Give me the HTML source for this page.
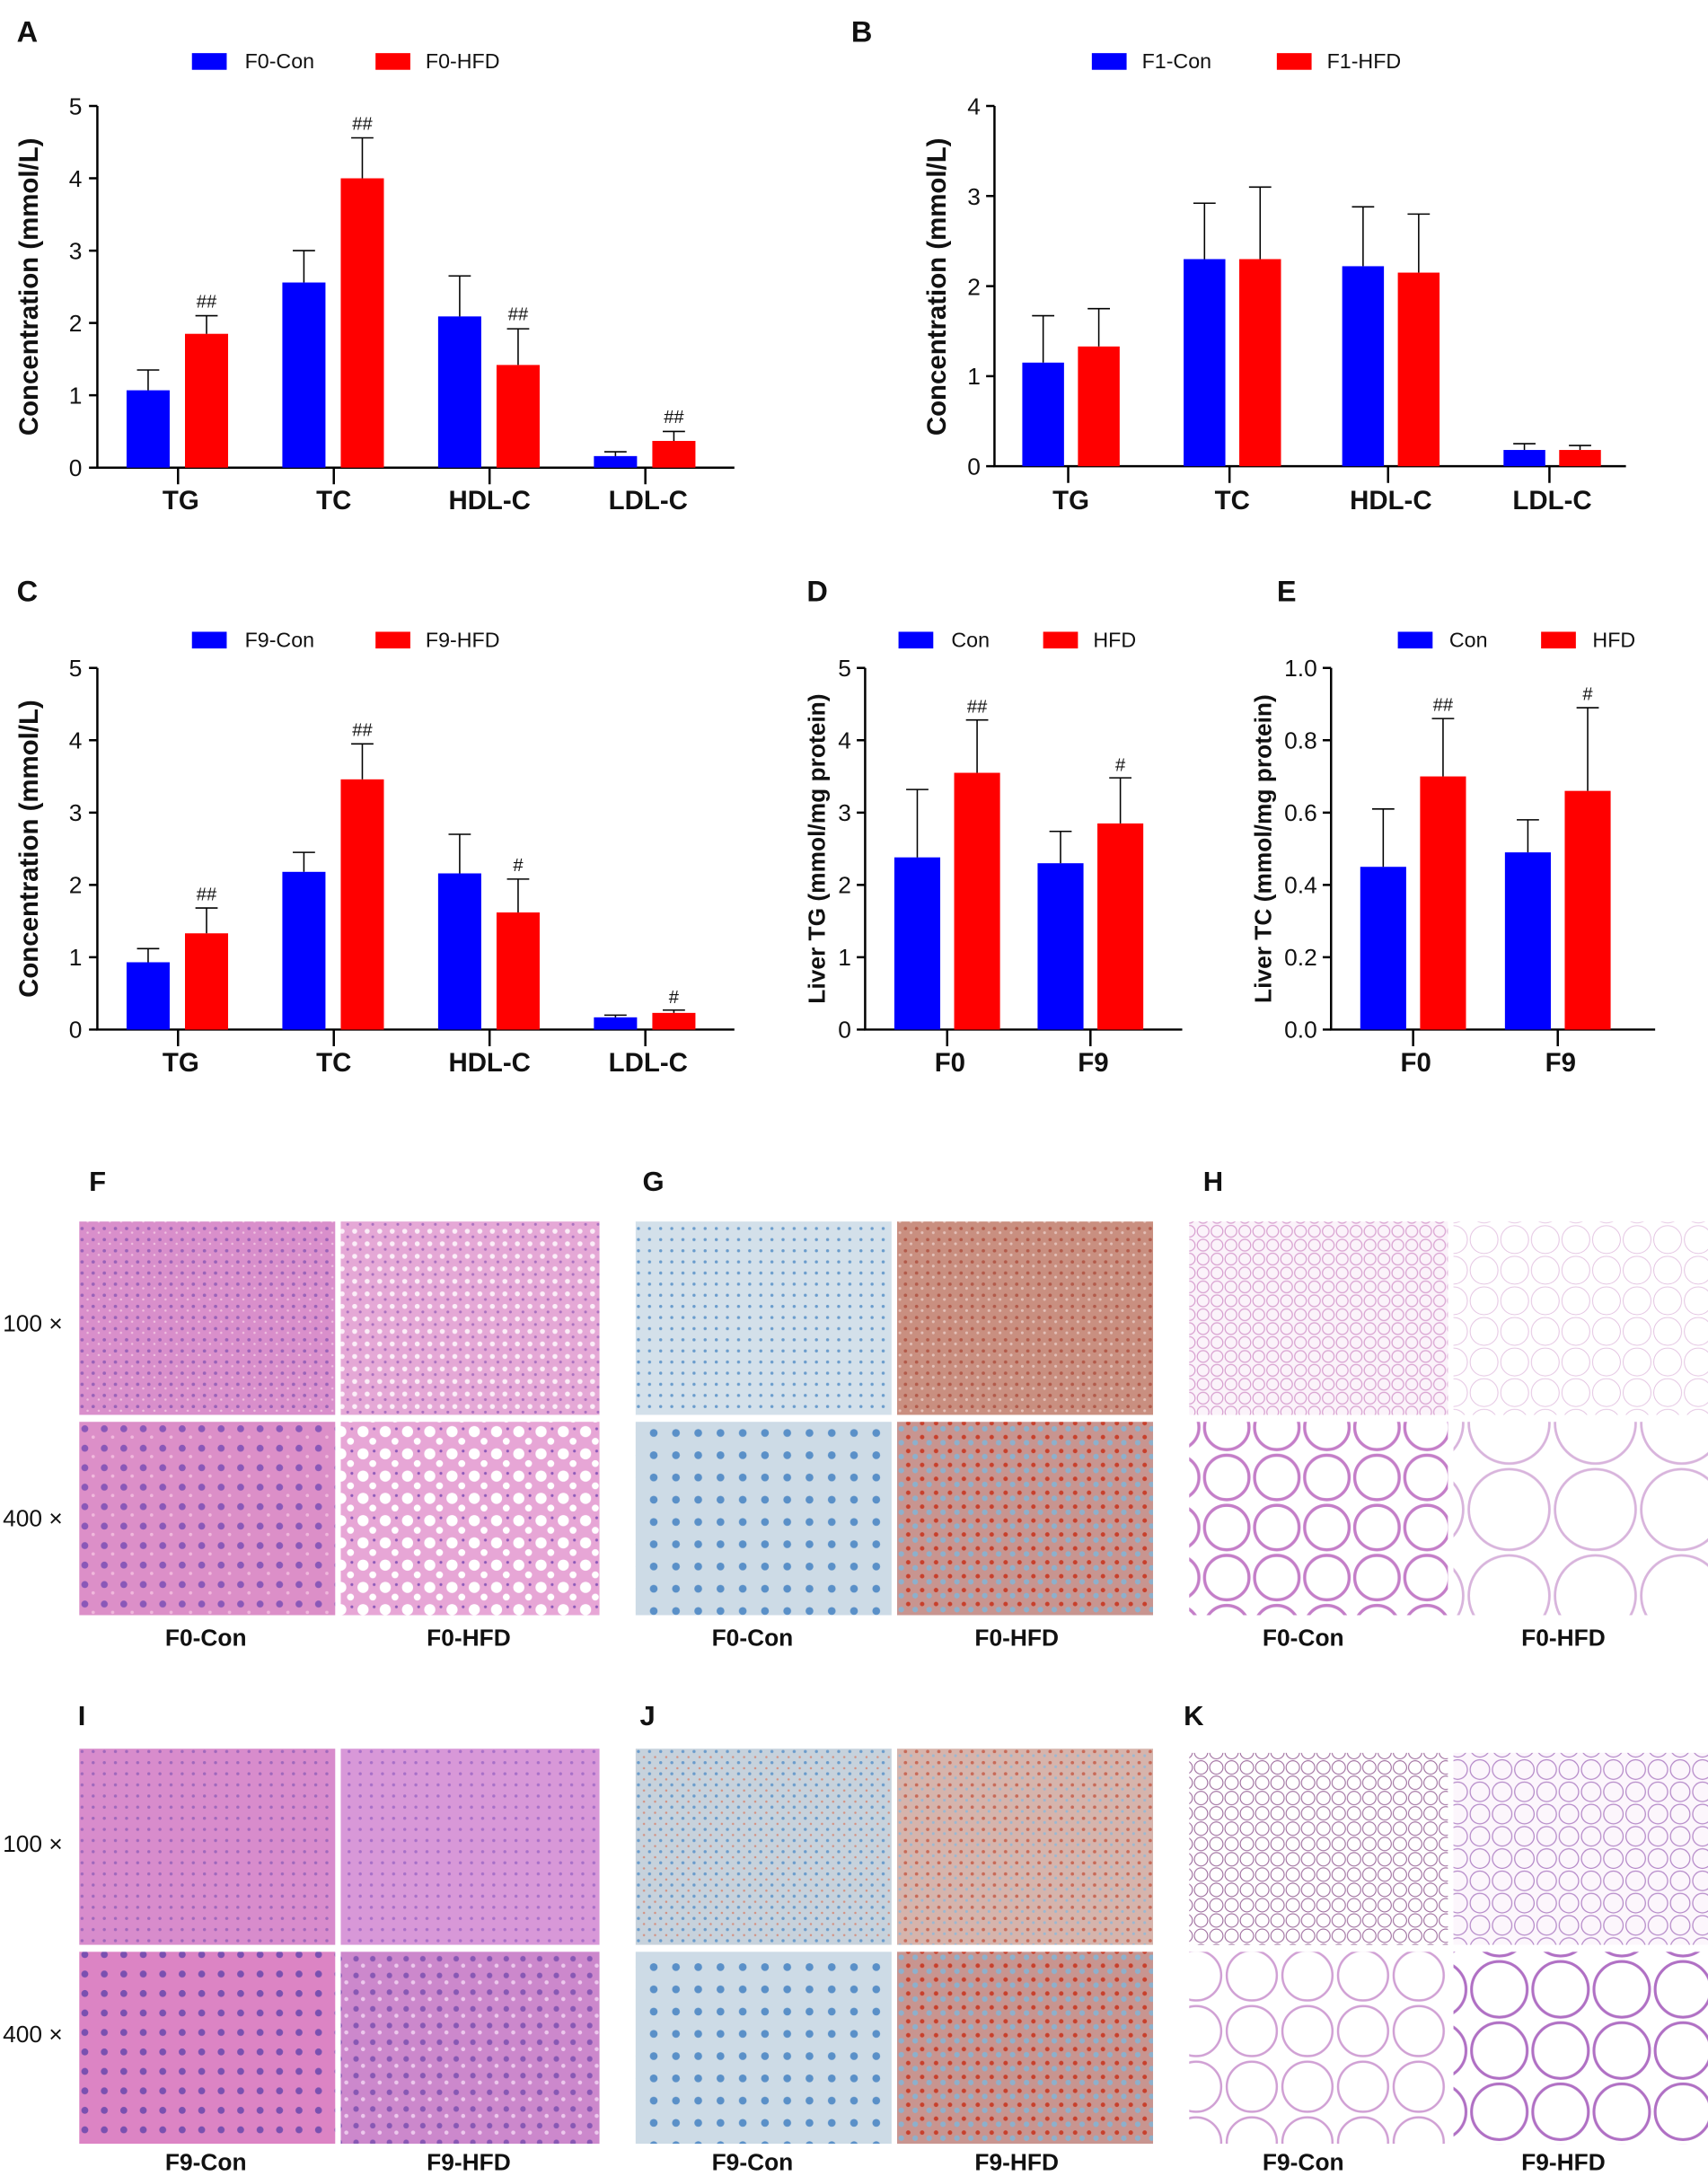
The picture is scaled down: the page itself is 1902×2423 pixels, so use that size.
<!DOCTYPE html>
<html><head><meta charset="utf-8"><style>
html,body{margin:0;padding:0;background:#fff}
svg{display:block}
text{font-family:"Liberation Sans",Arial,sans-serif;fill:#111}
.b{font-weight:bold}
</style></head><body>
<svg width="1902" height="2423" viewBox="0 0 1228 1564" xmlns="http://www.w3.org/2000/svg">
<defs>
<pattern id="he1" width="8" height="8" patternUnits="userSpaceOnUse"><rect width="8" height="8" fill="#d98fcb"/><circle cx="3" cy="3" r="1.2" fill="#9a62b8"/><circle cx="7" cy="6" r="0.8" fill="#f0c0e0"/></pattern>
<pattern id="he2" width="9" height="9" patternUnits="userSpaceOnUse"><rect width="9" height="9" fill="#e5a8d6"/><circle cx="3" cy="3" r="1.8" fill="#fbeef8"/><circle cx="7" cy="7" r="1" fill="#a870c0"/></pattern>
<pattern id="he3" width="14" height="14" patternUnits="userSpaceOnUse"><rect width="14" height="14" fill="#dc8fc8"/><circle cx="5" cy="5" r="2.5" fill="#8a58b8"/><circle cx="11" cy="11" r="1.2" fill="#f0b8dc"/></pattern>
<pattern id="he4" width="16" height="16" patternUnits="userSpaceOnUse"><rect width="16" height="16" fill="#e7a6d6"/><circle cx="5" cy="5" r="4" fill="#fff"/><circle cx="12" cy="12" r="2.5" fill="#fff"/><circle cx="13" cy="3" r="1" fill="#8a58b8"/></pattern>
<pattern id="or1" width="8" height="8" patternUnits="userSpaceOnUse"><rect width="8" height="8" fill="#d3e0ea"/><circle cx="3" cy="3" r="1.1" fill="#6a9ccc"/></pattern>
<pattern id="or2" width="8" height="8" patternUnits="userSpaceOnUse"><rect width="8" height="8" fill="#c98f80"/><circle cx="3" cy="3" r="1.2" fill="#b25a4a"/><circle cx="7" cy="6" r="1" fill="#e3c0b8"/></pattern>
<pattern id="or3" width="16" height="16" patternUnits="userSpaceOnUse"><rect width="16" height="16" fill="#cddbe6"/><circle cx="6" cy="6" r="2.8" fill="#5a90c8"/></pattern>
<pattern id="or4" width="10" height="10" patternUnits="userSpaceOnUse"><rect width="10" height="10" fill="#c89590"/><circle cx="3" cy="3" r="1.6" fill="#c8402c"/><circle cx="8" cy="7" r="2" fill="#8db0cc"/></pattern>
<pattern id="or5" width="8" height="8" patternUnits="userSpaceOnUse"><rect width="8" height="8" fill="#c7d2dc"/><circle cx="3" cy="3" r="1.1" fill="#6a9ccc"/><circle cx="7" cy="7" r="0.8" fill="#d49080"/></pattern>
<pattern id="or6" width="8" height="8" patternUnits="userSpaceOnUse"><rect width="8" height="8" fill="#d6b4ac"/><circle cx="3" cy="3" r="1.2" fill="#c86a58"/><circle cx="7" cy="6" r="1" fill="#9ab8d2"/></pattern>
<pattern id="ad1" width="10" height="10" patternUnits="userSpaceOnUse"><rect width="10" height="10" fill="#fbf3fa"/><circle cx="5" cy="5" r="4.2" fill="none" stroke="#d8a0d0" stroke-width="0.8"/></pattern>
<pattern id="ad2" width="22" height="22" patternUnits="userSpaceOnUse"><rect width="22" height="22" fill="#fff"/><circle cx="11" cy="11" r="10" fill="none" stroke="#e2c0e0" stroke-width="0.6"/></pattern>
<pattern id="ad3" width="36" height="36" patternUnits="userSpaceOnUse"><rect width="36" height="36" fill="#fff"/><circle cx="18" cy="18" r="16" fill="none" stroke="#c47ec8" stroke-width="2.2"/></pattern>
<pattern id="ad4" width="62" height="62" patternUnits="userSpaceOnUse"><rect width="62" height="62" fill="#fff"/><circle cx="31" cy="31" r="29" fill="none" stroke="#d8b4dc" stroke-width="1.8"/></pattern>
<pattern id="ad5" width="11" height="11" patternUnits="userSpaceOnUse"><rect width="11" height="11" fill="#fff"/><circle cx="5.5" cy="5.5" r="4.8" fill="none" stroke="#9c6a9c" stroke-width="0.7"/></pattern>
<pattern id="ad6" width="16" height="16" patternUnits="userSpaceOnUse"><rect width="16" height="16" fill="#fcf6fc"/><circle cx="8" cy="8" r="7" fill="none" stroke="#b488c8" stroke-width="0.8"/></pattern>
<pattern id="ad7" width="40" height="40" patternUnits="userSpaceOnUse"><rect width="40" height="40" fill="#fff"/><circle cx="20" cy="20" r="18" fill="none" stroke="#d0a0d4" stroke-width="1.6"/></pattern>
<pattern id="ad8" width="44" height="44" patternUnits="userSpaceOnUse"><rect width="44" height="44" fill="#fff"/><circle cx="22" cy="22" r="20" fill="none" stroke="#b070c4" stroke-width="2"/></pattern>
<pattern id="he5" width="8" height="8" patternUnits="userSpaceOnUse"><rect width="8" height="8" fill="#d88ccc"/><circle cx="3" cy="3" r="1.1" fill="#a068bc"/></pattern>
<pattern id="he6" width="8" height="8" patternUnits="userSpaceOnUse"><rect width="8" height="8" fill="#d898d8"/><circle cx="3" cy="3" r="1.1" fill="#a870c8"/></pattern>
<pattern id="he7" width="14" height="14" patternUnits="userSpaceOnUse"><rect width="14" height="14" fill="#dc84c4"/><circle cx="5" cy="5" r="2.5" fill="#7a50b0"/></pattern>
<pattern id="he8" width="12" height="12" patternUnits="userSpaceOnUse"><rect width="12" height="12" fill="#cc88cc"/><circle cx="4" cy="4" r="2" fill="#8858b4"/><circle cx="9" cy="9" r="1.5" fill="#ecc8ec"/></pattern>
</defs>

<!-- Panel A -->
<text x="12" y="30" class="b" font-size="21">A</text>
<rect x="138" y="38" width="25" height="12" fill="#0000ff"/><text x="176" y="49" font-size="15">F0-Con</text>
<rect x="270" y="38" width="25" height="12" fill="#ff0000"/><text x="306" y="49" font-size="15">F0-HFD</text>
<g stroke="#000" stroke-width="1.6" fill="none">
<path d="M70 76V336H528"/>
<path d="M64 76H70M64 128H70M64 180H70M64 232H70M64 284H70M64 336H70"/>
<path d="M128 336v12M240 336v12M352 336v12M464 336v12"/>
</g>
<g font-size="17" text-anchor="end"><text x="59" y="82">5</text><text x="59" y="134">4</text><text x="59" y="186">3</text><text x="59" y="238">2</text><text x="59" y="290">1</text><text x="59" y="342">0</text></g>
<g font-size="19" class="b" text-anchor="middle"><text x="130" y="366">TG</text><text x="240" y="366">TC</text><text x="352" y="366">HDL-C</text><text x="466" y="366">LDL-C</text></g>
<text transform="translate(27,206) rotate(-90)" font-size="19" class="b" text-anchor="middle">Concentration (mmol/L)</text>
<g>
<rect x="91" y="280.4" width="31" height="55.6" fill="#0000ff"/><rect x="133" y="239.8" width="31" height="96.2" fill="#ff0000"/>
<rect x="203" y="202.9" width="31" height="133.1" fill="#0000ff"/><rect x="245" y="128" width="31" height="208" fill="#ff0000"/>
<rect x="315" y="227.3" width="31" height="108.7" fill="#0000ff"/><rect x="357" y="262.2" width="31" height="73.8" fill="#ff0000"/>
<rect x="427" y="327.7" width="31" height="8.3" fill="#0000ff"/><rect x="469" y="316.8" width="31" height="19.2" fill="#ff0000"/>
</g>
<g stroke="#000" stroke-width="1" fill="none">
<path d="M106.5 280.4V265.8M98.5 265.8h16M148.5 239.8V226.8M140.5 226.8h16"/>
<path d="M218.5 202.9V180M210.5 180h16M260.5 128V98.9M252.5 98.9h16"/>
<path d="M330.5 227.3V198.2M322.5 198.2h16M372.5 262.2V236.2M364.5 236.2h16"/>
<path d="M442.5 327.7V324.6M434.5 324.6h16M484.5 316.8V310M476.5 310h16"/>
</g>
<g font-size="13" text-anchor="middle"><text x="148.5" y="221">##</text><text x="260.5" y="93">##</text><text x="372.5" y="230">##</text><text x="484.5" y="304">##</text></g>

<!-- Panel B -->
<text x="612" y="30" class="b" font-size="21">B</text>
<rect x="785" y="38" width="25" height="12" fill="#0000ff"/><text x="821" y="49" font-size="15">F1-Con</text>
<rect x="918" y="38" width="25" height="12" fill="#ff0000"/><text x="954" y="49" font-size="15">F1-HFD</text>
<g stroke="#000" stroke-width="1.6" fill="none">
<path d="M715 76V335H1169"/>
<path d="M709 76H715M709 140.75H715M709 205.5H715M709 270.25H715M709 335H715"/>
<path d="M768 335v12M884 335v12M998 335v12M1114 335v12"/>
</g>
<g font-size="17" text-anchor="end"><text x="705" y="82">4</text><text x="705" y="147">3</text><text x="705" y="212">2</text><text x="705" y="276">1</text><text x="705" y="341">0</text></g>
<g font-size="19" class="b" text-anchor="middle"><text x="770" y="366">TG</text><text x="886" y="366">TC</text><text x="1000" y="366">HDL-C</text><text x="1116" y="366">LDL-C</text></g>
<text transform="translate(680,206) rotate(-90)" font-size="19" class="b" text-anchor="middle">Concentration (mmol/L)</text>
<g>
<rect x="735" y="260.5" width="30" height="74.5" fill="#0000ff"/><rect x="775" y="248.9" width="30" height="86.1" fill="#ff0000"/>
<rect x="851" y="186.1" width="30" height="148.9" fill="#0000ff"/><rect x="891" y="186.1" width="30" height="148.9" fill="#ff0000"/>
<rect x="965" y="191.2" width="30" height="143.8" fill="#0000ff"/><rect x="1005" y="195.8" width="30" height="139.2" fill="#ff0000"/>
<rect x="1081" y="323.3" width="30" height="11.7" fill="#0000ff"/><rect x="1121" y="323.3" width="30" height="11.7" fill="#ff0000"/>
</g>
<g stroke="#000" stroke-width="1" fill="none">
<path d="M750 260.5V226.8M742 226.8h16M790 248.9V221.7M782 221.7h16"/>
<path d="M866 186.1V145.9M858 145.9h16M906 186.1V134.3M898 134.3h16"/>
<path d="M980 191.2V148.5M972 148.5h16M1020 195.8V153.7M1012 153.7h16"/>
<path d="M1096 323.3V318.8M1088 318.8h16M1136 323.3V320.1M1128 320.1h16"/>
</g>

<!-- Panel C -->
<text x="12" y="432" class="b" font-size="21">C</text>
<rect x="138" y="454" width="25" height="12" fill="#0000ff"/><text x="176" y="465" font-size="15">F9-Con</text>
<rect x="270" y="454" width="25" height="12" fill="#ff0000"/><text x="306" y="465" font-size="15">F9-HFD</text>
<g stroke="#000" stroke-width="1.6" fill="none">
<path d="M70 480V740H528"/>
<path d="M64 480H70M64 532H70M64 584H70M64 636H70M64 688H70M64 740H70"/>
<path d="M128 740v12M240 740v12M352 740v12M464 740v12"/>
</g>
<g font-size="17" text-anchor="end"><text x="59" y="486">5</text><text x="59" y="538">4</text><text x="59" y="590">3</text><text x="59" y="642">2</text><text x="59" y="694">1</text><text x="59" y="746">0</text></g>
<g font-size="19" class="b" text-anchor="middle"><text x="130" y="770">TG</text><text x="240" y="770">TC</text><text x="352" y="770">HDL-C</text><text x="466" y="770">LDL-C</text></g>
<text transform="translate(27,610) rotate(-90)" font-size="19" class="b" text-anchor="middle">Concentration (mmol/L)</text>
<g>
<rect x="91" y="691.6" width="31" height="48.4" fill="#0000ff"/><rect x="133" y="670.8" width="31" height="69.2" fill="#ff0000"/>
<rect x="203" y="626.6" width="31" height="113.4" fill="#0000ff"/><rect x="245" y="560.1" width="31" height="179.9" fill="#ff0000"/>
<rect x="315" y="627.7" width="31" height="112.3" fill="#0000ff"/><rect x="357" y="655.8" width="31" height="84.2" fill="#ff0000"/>
<rect x="427" y="731.2" width="31" height="8.8" fill="#0000ff"/><rect x="469" y="728" width="31" height="12" fill="#ff0000"/>
</g>
<g stroke="#000" stroke-width="1" fill="none">
<path d="M106.5 691.6V681.8M98.5 681.8h16M148.5 670.8V652.6M140.5 652.6h16"/>
<path d="M218.5 626.6V612.6M210.5 612.6h16M260.5 560.1V534.6M252.5 534.6h16"/>
<path d="M330.5 627.7V599.6M322.5 599.6h16M372.5 655.8V631.8M364.5 631.8h16"/>
<path d="M442.5 731.2V729.6M434.5 729.6h16M484.5 728V726M476.5 726h16"/>
</g>
<g font-size="13" text-anchor="middle"><text x="148.5" y="647">##</text><text x="260.5" y="529">##</text><text x="372.5" y="626">#</text><text x="484.5" y="721">#</text></g>

<!-- Panel D -->
<text x="580" y="432" class="b" font-size="21">D</text>
<rect x="646" y="454" width="25" height="12" fill="#0000ff"/><text x="684" y="465" font-size="15">Con</text>
<rect x="750" y="454" width="25" height="12" fill="#ff0000"/><text x="786" y="465" font-size="15">HFD</text>
<g stroke="#000" stroke-width="1.6" fill="none">
<path d="M622 480V740H850"/>
<path d="M616 480H622M616 532H622M616 584H622M616 636H622M616 688H622M616 740H622"/>
<path d="M681 740v12M784 740v12"/>
</g>
<g font-size="17" text-anchor="end"><text x="612" y="486">5</text><text x="612" y="538">4</text><text x="612" y="590">3</text><text x="612" y="642">2</text><text x="612" y="694">1</text><text x="612" y="746">0</text></g>
<g font-size="19" class="b" text-anchor="middle"><text x="683" y="770">F0</text><text x="786" y="770">F9</text></g>
<text transform="translate(593,610) rotate(-90)" font-size="17" class="b" text-anchor="middle">Liver TG (mmol/mg protein)</text>
<g>
<rect x="643" y="616.2" width="33" height="123.8" fill="#0000ff"/><rect x="686" y="555.4" width="33" height="184.6" fill="#ff0000"/>
<rect x="746" y="620.4" width="33" height="119.6" fill="#0000ff"/><rect x="789" y="591.8" width="33" height="148.2" fill="#ff0000"/>
</g>
<g stroke="#000" stroke-width="1" fill="none">
<path d="M659.5 616.2V567.4M651.5 567.4h16M702.5 555.4V517.4M694.5 517.4h16"/>
<path d="M762.5 620.4V597.5M754.5 597.5h16M805.5 591.8V559M797.5 559h16"/>
</g>
<g font-size="13" text-anchor="middle"><text x="702.5" y="512">##</text><text x="805.5" y="554">#</text></g>

<!-- Panel E -->
<text x="918" y="432" class="b" font-size="21">E</text>
<rect x="1005" y="454" width="25" height="12" fill="#0000ff"/><text x="1042" y="465" font-size="15">Con</text>
<rect x="1108" y="454" width="25" height="12" fill="#ff0000"/><text x="1145" y="465" font-size="15">HFD</text>
<g stroke="#000" stroke-width="1.6" fill="none">
<path d="M957 480V740H1190"/>
<path d="M951 480H957M951 532H957M951 584H957M951 636H957M951 688H957M951 740H957"/>
<path d="M1016 740v12M1120 740v12"/>
</g>
<g font-size="17" text-anchor="end"><text x="947" y="486">1.0</text><text x="947" y="538">0.8</text><text x="947" y="590">0.6</text><text x="947" y="642">0.4</text><text x="947" y="694">0.2</text><text x="947" y="746">0.0</text></g>
<g font-size="19" class="b" text-anchor="middle"><text x="1018" y="770">F0</text><text x="1122" y="770">F9</text></g>
<text transform="translate(914,610) rotate(-90)" font-size="17" class="b" text-anchor="middle">Liver TC (mmol/mg protein)</text>
<g>
<rect x="978" y="623" width="33" height="117" fill="#0000ff"/><rect x="1021" y="558" width="33" height="182" fill="#ff0000"/>
<rect x="1082" y="612.6" width="33" height="127.4" fill="#0000ff"/><rect x="1125" y="568.4" width="33" height="171.6" fill="#ff0000"/>
</g>
<g stroke="#000" stroke-width="1" fill="none">
<path d="M994.5 623V581.4M986.5 581.4h16M1037.5 558V516.4M1029.5 516.4h16"/>
<path d="M1098.5 612.6V589.2M1090.5 589.2h16M1141.5 568.4V508.6M1133.5 508.6h16"/>
</g>
<g font-size="13" text-anchor="middle"><text x="1037.5" y="511">##</text><text x="1141.5" y="503">#</text></g>

<!-- Histology row 1 -->
<text x="64" y="856" class="b" font-size="20">F</text>
<text x="462" y="856" class="b" font-size="20">G</text>
<text x="865" y="856" class="b" font-size="20">H</text>
<text x="2" y="957" font-size="17">100 ×</text>
<text x="2" y="1097" font-size="17">400 ×</text>
<rect x="57" y="878" width="184" height="139" fill="url(#he1)"/>
<rect x="245" y="878" width="186" height="139" fill="url(#he2)"/>
<rect x="57" y="1022" width="184" height="139" fill="url(#he3)"/>
<rect x="245" y="1022" width="186" height="139" fill="url(#he4)"/>
<rect x="457" y="878" width="184" height="139" fill="url(#or1)"/>
<rect x="645" y="878" width="184" height="139" fill="url(#or2)"/>
<rect x="457" y="1022" width="184" height="139" fill="url(#or3)"/>
<rect x="645" y="1022" width="184" height="139" fill="url(#or4)"/>
<rect x="855" y="878" width="186" height="139" fill="url(#ad1)"/>
<rect x="1045" y="878" width="183" height="139" fill="url(#ad2)"/>
<rect x="855" y="1022" width="186" height="139" fill="url(#ad3)"/>
<rect x="1045" y="1022" width="183" height="139" fill="url(#ad4)"/>
<g font-size="17" class="b" text-anchor="middle">
<text x="148" y="1183">F0-Con</text><text x="337" y="1183">F0-HFD</text>
<text x="541" y="1183">F0-Con</text><text x="731" y="1183">F0-HFD</text>
<text x="937" y="1183">F0-Con</text><text x="1124" y="1183">F0-HFD</text>
</g>

<!-- Histology row 2 -->
<text x="56" y="1240" class="b" font-size="20">I</text>
<text x="460" y="1240" class="b" font-size="20">J</text>
<text x="851" y="1240" class="b" font-size="20">K</text>
<text x="2" y="1331" font-size="17">100 ×</text>
<text x="2" y="1468" font-size="17">400 ×</text>
<rect x="57" y="1257" width="184" height="141" fill="url(#he5)"/>
<rect x="245" y="1257" width="186" height="141" fill="url(#he6)"/>
<rect x="57" y="1403" width="184" height="138" fill="url(#he7)"/>
<rect x="245" y="1403" width="186" height="138" fill="url(#he8)"/>
<rect x="457" y="1257" width="184" height="141" fill="url(#or5)"/>
<rect x="645" y="1257" width="184" height="141" fill="url(#or6)"/>
<rect x="457" y="1403" width="184" height="138" fill="url(#or3)"/>
<rect x="645" y="1403" width="184" height="138" fill="url(#or4)"/>
<rect x="855" y="1260" width="186" height="138" fill="url(#ad5)"/>
<rect x="1045" y="1260" width="183" height="138" fill="url(#ad6)"/>
<rect x="855" y="1403" width="186" height="138" fill="url(#ad7)"/>
<rect x="1045" y="1403" width="183" height="138" fill="url(#ad8)"/>
<g font-size="17" class="b" text-anchor="middle">
<text x="148" y="1560">F9-Con</text><text x="337" y="1560">F9-HFD</text>
<text x="541" y="1560">F9-Con</text><text x="731" y="1560">F9-HFD</text>
<text x="937" y="1560">F9-Con</text><text x="1124" y="1560">F9-HFD</text>
</g>
</svg>
</body></html>
